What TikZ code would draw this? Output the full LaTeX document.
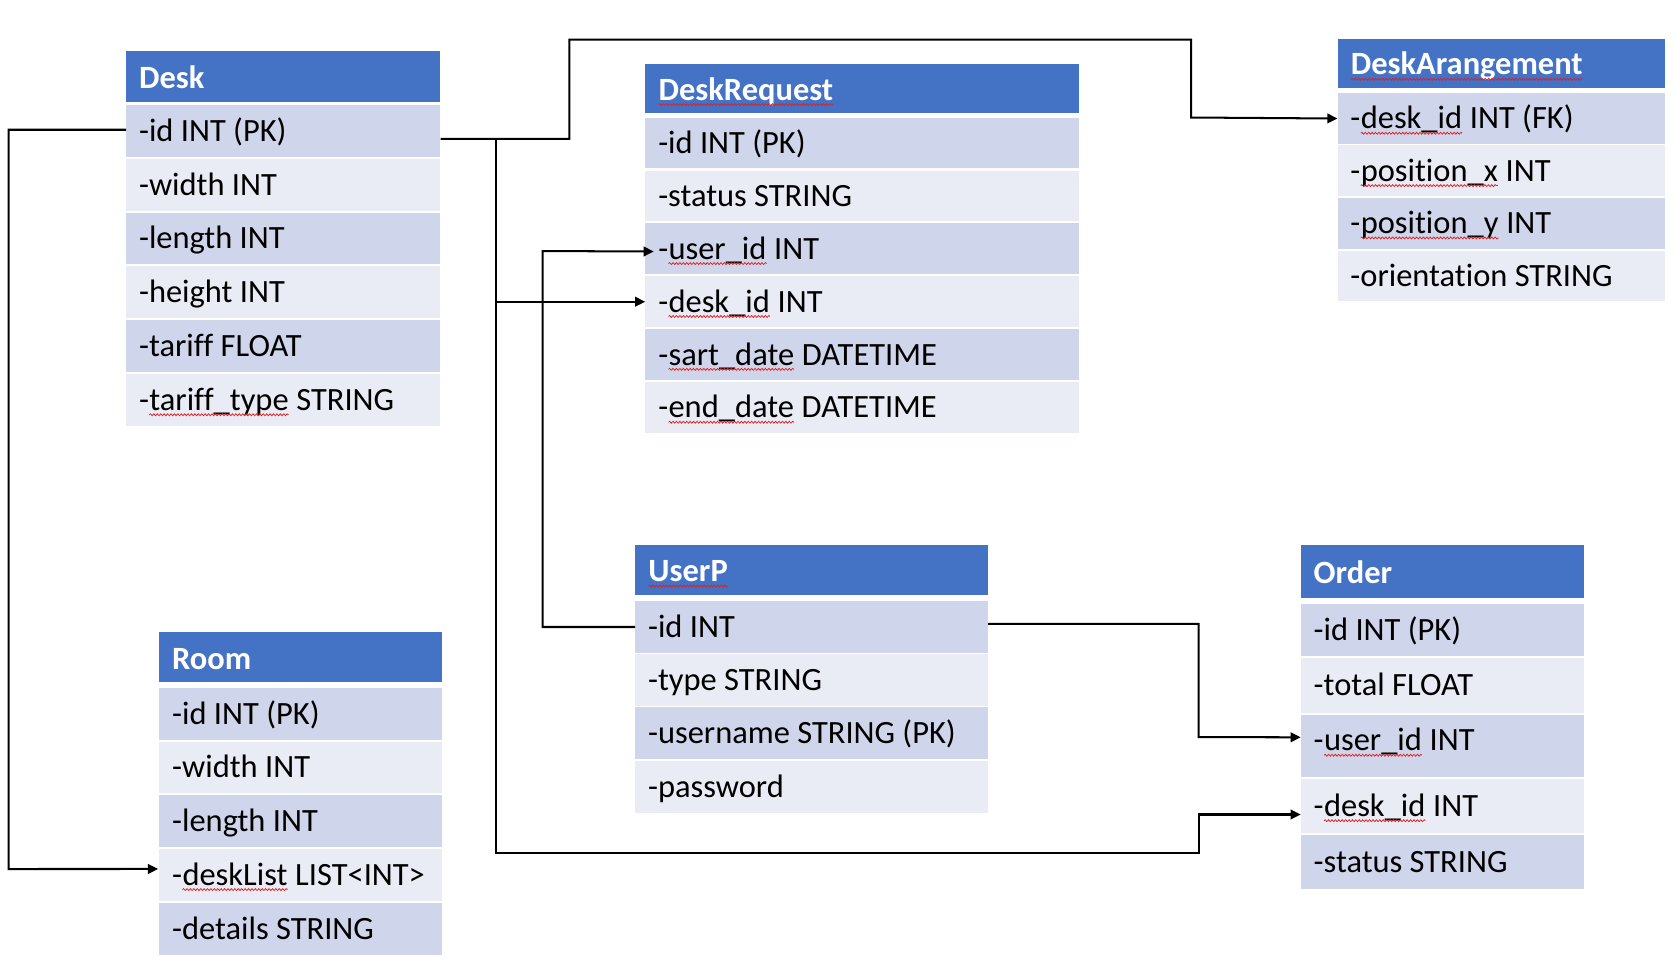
\documentclass[tikz,border=0pt]{standalone}
\usepackage{fontspec}
\setmainfont{Carlito}[Ligatures={NoCommon}]
\usetikzlibrary{arrows.meta,calc,decorations.pathmorphing}
\definecolor{hdrblue}{HTML}{4472C4}
\definecolor{rowdark}{HTML}{CFD5EA}
\definecolor{rowlight}{HTML}{E9EBF5}
\definecolor{spell}{HTML}{E02020}
\tikzset{
  rowbox/.style={rectangle,anchor=north west,inner xsep=12pt,inner ysep=0pt,
    text height=19.6pt,text depth=0pt,font=\fontsize{30.4}{36}\selectfont},
  hd/.style={fill=hdrblue,text=white,text height=22pt,font=\fontsize{30.4}{36}\selectfont\bfseries},
  dk/.style={fill=rowdark},
  lt/.style={fill=rowlight},
  conn/.style={line width=1.9pt,black},
  arr/.style={conn,-{Triangle[length=9.5pt,width=9pt]}},
  sqword/.style={rectangle,inner sep=0pt,outer sep=0pt,minimum width=0pt,minimum height=0pt,
    text height=,text depth=,anchor=base west,fill=none,draw=none},
  sqline/.style={draw=spell,fill=none,line width=0.7pt,decorate,
    decoration={snake,amplitude=0.9pt,segment length=3.2pt}}
}
\newcommand\sq[1]{\tikz[baseline=(sqw.base)]{\node[sqword] (sqw) {#1};
  \path[sqline] ([yshift=-4pt]sqw.base west) -- ([yshift=-4pt]sqw.base east);}}
% name, x, y, width, height, style, text
\newcommand\erow[7]{\node[rowbox,#6,minimum width=#4pt,minimum height=#5pt] (#1) at (#2,#3) {\makebox[\dimexpr#4pt-24pt\relax][l]{#7}};}
\begin{document}
\begin{tikzpicture}[x=1pt,y=-1pt]
\useasboundingbox (0,0) rectangle (1568,902);
\fill[white] (0,0) rectangle (1568,902);
% Desk
\erow{desk-h}{118}{48}{294}{47}{hd}{Desk}
\erow{desk-id}{118}{98}{294}{48.5}{dk}{-id INT (PK)}
\erow{desk-width}{118}{148.4}{294}{48.5}{lt}{-width INT}
\erow{desk-length}{118}{198.8}{294}{48.5}{dk}{-length INT}
\erow{desk-height}{118}{249.2}{294}{48.5}{lt}{-height INT}
\erow{desk-tariff}{118}{299.6}{294}{48.5}{dk}{-tariff FLOAT}
\erow{desk-ttype}{118}{350}{294}{48.5}{lt}{-\sq{tariff\_type} STRING}
% DeskRequest
\erow{drq-h}{604}{60}{406}{45.5}{hd}{\sq{DeskRequest}}
\erow{drq-id}{604}{110}{406}{47.5}{dk}{-id INT (PK)}
\erow{drq-status}{604}{159.5}{406}{47.5}{lt}{-status STRING}
\erow{drq-userid}{604}{209}{406}{47.5}{dk}{-\sq{user\_id} INT}
\erow{drq-deskid}{604}{258.5}{406}{47.5}{lt}{-\sq{desk\_id} INT}
\erow{drq-start}{604}{308}{406}{47.5}{dk}{-\sq{sart\_date} DATETIME}
\erow{drq-end}{604}{357.5}{406}{47.5}{lt}{-\sq{end\_date} DATETIME}
% DeskArangement
\erow{dra-h}{1252}{36}{306}{46}{hd}{\sq{DeskArangement}}
\erow{dra-deskid}{1252}{87}{306}{47.5}{dk}{-\sq{desk\_id} INT (FK)}
\erow{dra-px}{1252}{136}{306}{47.5}{lt}{-\sq{position\_x} INT}
\erow{dra-py}{1252}{185}{306}{47.5}{dk}{-\sq{position\_y} INT}
\erow{dra-or}{1252}{234.5}{306}{47.5}{lt}{-orientation STRING}
% Room
\erow{room-h}{149}{591.6}{265}{47}{hd}{Room}
\erow{room-id}{149}{644}{265}{48.5}{dk}{-id INT (PK)}
\erow{room-width}{149}{694}{265}{48.5}{lt}{-width INT}
\erow{room-length}{149}{744}{265}{48.5}{dk}{-length INT}
\erow{room-desklist}{149}{794.5}{265}{48.5}{lt}{-\sq{deskList} LIST<INT>}
\erow{room-details}{149}{845}{265}{48.5}{dk}{-details STRING}
% UserP
\erow{usr-h}{594.5}{510}{330}{47}{hd}{\sq{UserP}}
\erow{usr-id}{594.5}{562.6}{330}{48.3}{dk}{-id INT}
\erow{usr-type}{594.5}{612}{330}{48.3}{lt}{-type STRING}
\erow{usr-name}{594.5}{662}{330}{48.3}{dk}{-username STRING (PK)}
\erow{usr-pw}{594.5}{712.4}{330}{48.3}{lt}{-password}
% Order
\erow{ord-h}{1217.6}{510}{265}{49.5}{hd}{Order}
\erow{ord-id}{1217.6}{564.8}{265}{49.2}{dk}{-id INT (PK)}
\erow{ord-total}{1217.6}{615.7}{265}{51.5}{lt}{-total FLOAT}
\erow{ord-userid}{1217.6}{669}{265}{58}{dk,text depth=10pt}{-\sq{user\_id} INT}
\erow{ord-deskid}{1217.6}{729}{265}{50.5}{lt}{-\sq{desk\_id} INT}
\erow{ord-status}{1217.6}{781.4}{265}{50.2}{dk}{-status STRING}
% connector corners
\coordinate (c1) at (533,37);
\coordinate (c2) at (1115,110);
\coordinate (j1) at (464,129.5);
\coordinate (c3) at (1122,798.5);
\coordinate (c4) at (8,813.5);
\coordinate (c5) at (508,235);
\coordinate (c6) at (1122,690);
% connectors
\draw[arr] ([yshift=-7.5pt]desk-id.east) -| (c1) -| (c2) -- (dra-deskid.west);
\draw[arr] (j1) |- (drq-deskid.west);
\draw[arr] (j1) |- (c3) |- ([yshift=-8pt]ord-deskid.west);
\draw[arr] ([yshift=1pt]desk-id.west) -| (c4) -- ([yshift=5.5pt,xshift=-1pt]room-desklist.west);
\draw[arr] (usr-id.west) -| (c5) -- ([xshift=8pt,yshift=-2.5pt]drq-userid.west);
\draw[arr] ([yshift=3pt]usr-id.east) -| (c6) -- ([yshift=8pt]ord-userid.west);
\end{tikzpicture}
\end{document}
